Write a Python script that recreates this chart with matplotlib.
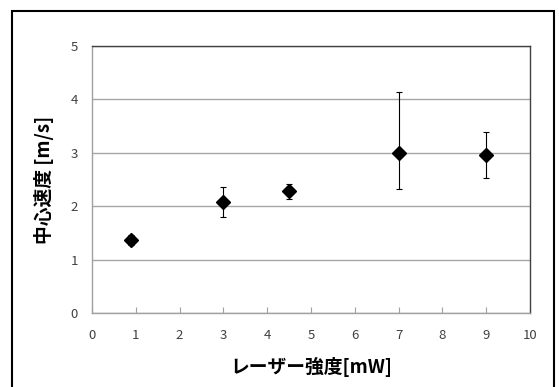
import numpy as np
import matplotlib.pyplot as plt
from matplotlib.patches import Rectangle

plt.rcParams['font.family'] = ['Noto Sans CJK JP', 'DejaVu Sans']

# data
laser_power = [0.9, 3.0, 4.5, 7.0, 9.0]
center_speed = [1.37, 2.08, 2.28, 3.00, 2.95]
err_low = [0.10, 0.29, 0.14, 0.68, 0.43]
err_high = [0.10, 0.28, 0.14, 1.13, 0.43]

x_ticks = list(range(0, 11))
y_ticks = list(range(0, 6))

fig = plt.figure(figsize=(5.59, 3.87), dpi=100)
ax = fig.add_axes([92 / 559, 1 - 313.3 / 387, 438 / 559, 267.6 / 387])

ax.errorbar(laser_power, center_speed, yerr=[err_low, err_high],
            fmt='D', color='black', ms=7.5, ecolor='black', elinewidth=0.8,
            capsize=2.5, capthick=0.8, zorder=3)

ax.set_xlim(0, 10)
ax.set_ylim(0, 5)
ax.set_xticks(x_ticks)
ax.set_yticks(y_ticks)
ax.yaxis.grid(True, color='#a6a6a6', linewidth=1.0)
ax.set_axisbelow(True)

ax.tick_params(axis='x', direction='in', length=4, width=0.8, color='#a0a0a0',
               pad=11, labelsize=9.5, labelcolor='#404040')
ax.tick_params(axis='y', length=0, pad=10, labelsize=9.5, labelcolor='#404040')

for side in ['left', 'bottom']:
    ax.spines[side].set_color('#a0a0a0')
    ax.spines[side].set_linewidth(1.0)
for side in ['top', 'right']:
    ax.spines[side].set_color('#404040')
    ax.spines[side].set_linewidth(1.0)

ax.set_xlabel('レーザー強度[mW]', fontsize=13.5, fontweight='bold', labelpad=11)
ax.set_ylabel('中心速度 [m/s]', fontsize=13.5, fontweight='bold', labelpad=12)

# outer chart frame
frame = Rectangle((12 / 559, -0.05), 542 / 559, 1.05 - 11.5 / 387,
                  transform=fig.transFigure, fill=False, edgecolor='black',
                  linewidth=1.5, clip_on=False)
fig.patches.append(frame)

fig.savefig('out.png', dpi=100)
